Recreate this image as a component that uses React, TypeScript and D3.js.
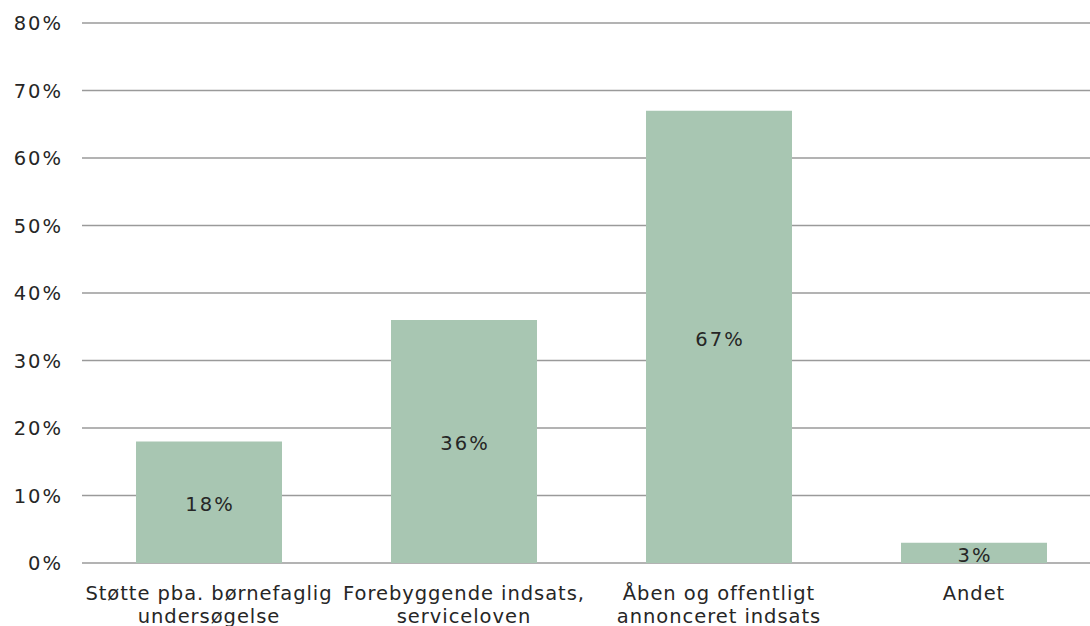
import * as React from 'react'
import * as d3 from 'd3'

const categories = [
  ['Støtte pba. børnefaglig', 'undersøgelse'],
  ['Forebyggende indsats,', 'serviceloven'],
  ['Åben og offentligt', 'annonceret indsats'],
  ['Andet'],
];
const values = [0.18, 0.36, 0.67, 0.03];
const yTicks = [0, 0.1, 0.2, 0.3, 0.4, 0.5, 0.6, 0.7, 0.8];

const width = 1090;
const height = 626;
const margin = { top: 23, bottom: 63, left: 82 };
const font = 'Verdana, "DejaVu Sans", sans-serif';
const fontSize = 19.5;
const textColor = '#262626';

const App: React.FC = () => {
  const ref = React.useRef<SVGSVGElement>(null);

  React.useEffect(() => {
    const svg = d3.select(ref.current);
    svg.selectAll('*').remove();

    // band range runs a bit past the right edge, as in the source chart
    const x = d3.scaleBand<number>()
      .domain(d3.range(values.length))
      .range([margin.left, 1101])
      .paddingInner(0.4275)
      .paddingOuter(0.2118);

    const y = d3.scaleLinear()
      .domain([0, 0.8])
      .range([height - margin.bottom, margin.top]);

    const fmt = d3.format('.0%');

    svg.append('g')
      .selectAll('line')
      .data(yTicks)
      .join('line')
      .attr('x1', margin.left)
      .attr('x2', width)
      .attr('y1', d => y(d))
      .attr('y2', d => y(d))
      .attr('stroke', '#9a9a9a')
      .attr('stroke-width', 1.5);

    svg.append('g')
      .selectAll('text')
      .data(yTicks)
      .join('text')
      .attr('x', 63)
      .attr('y', d => y(d))
      .attr('dy', '0.36em')
      .attr('text-anchor', 'end')
      .attr('font-family', font)
      .attr('font-size', fontSize)
      .attr('letter-spacing', '2px')
      .attr('fill', textColor)
      .text(d => fmt(d));

    const bars = svg.append('g');
    bars.selectAll('rect')
      .data(values)
      .join('rect')
      .attr('x', (d, i) => x(i)!)
      .attr('width', x.bandwidth())
      .attr('y', d => y(d))
      .attr('height', d => y(0) - y(d))
      .attr('fill', '#a8c6b2');

    bars.selectAll('text')
      .data(values)
      .join('text')
      .attr('x', (d, i) => x(i)! + x.bandwidth() / 2 + 1)
      .attr('y', d => (y(d) + y(0)) / 2)
      .attr('dy', '0.46em')
      .attr('text-anchor', 'middle')
      .attr('font-family', font)
      .attr('font-size', fontSize)
      .attr('letter-spacing', '2px')
      .attr('fill', textColor)
      .text(d => fmt(d));

    const labels = svg.append('g')
      .selectAll('text')
      .data(categories)
      .join('text')
      .attr('x', (d, i) => x(i)! + x.bandwidth() / 2)
      .attr('y', y(0) + 37)
      .attr('text-anchor', 'middle')
      .attr('font-family', font)
      .attr('font-size', fontSize)
      .attr('letter-spacing', '0.95px')
      .attr('fill', textColor);

    labels.selectAll('tspan')
      .data(d => d)
      .join('tspan')
      .attr('x', function () { return (this.parentNode as SVGTextElement).getAttribute('x'); })
      .attr('dy', (d, i) => (i === 0 ? 0 : 22.7))
      .text(d => d);
  }, []);

  return (
    <svg
      ref={ref}
      width={width}
      height={height}
      style={{ position: 'absolute', left: 0, top: 0, background: '#fff' }}
    />
  );
};

export default App;
